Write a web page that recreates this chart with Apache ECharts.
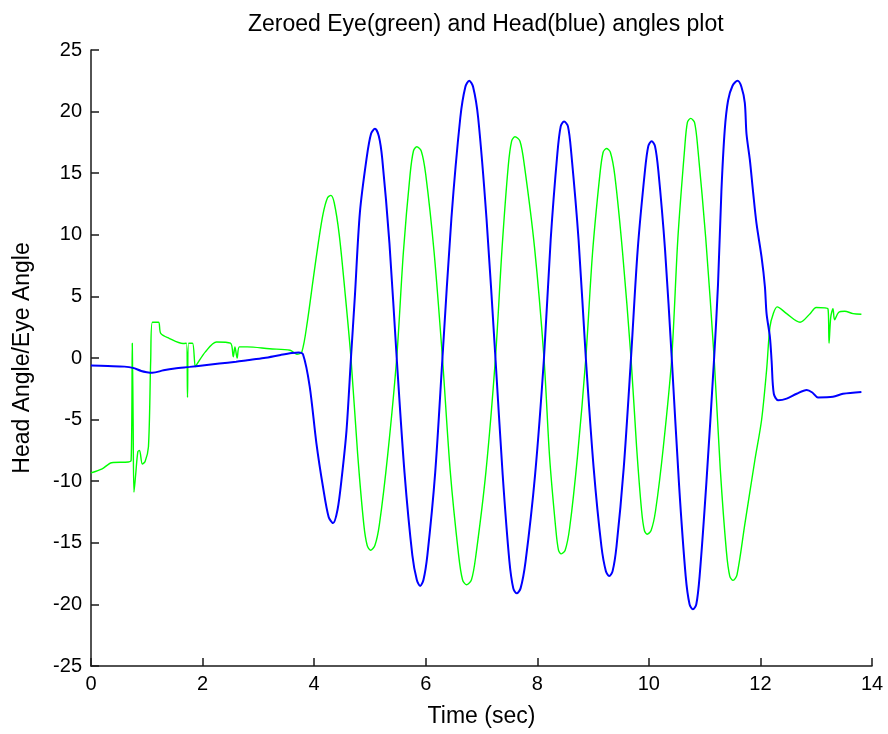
<!DOCTYPE html>
<html>
<head>
<meta charset="utf-8">
<title>Zeroed Eye and Head angles</title>
<script src="https://cdn.jsdelivr.net/npm/echarts@6/dist/echarts.min.js"></script>
<style>
  html, body { margin: 0; padding: 0; background: #fff; }
  #chart { width: 888px; height: 734px; }
</style>
</head>
<body>
<div id="chart"></div>
<script>
// tick values on both axes
const xTicks = [0, 2, 4, 6, 8, 10, 12, 14];
const yTicks = [-25, -20, -15, -10, -5, 0, 5, 10, 15, 20, 25];

// head angle (blue)
const headT = [0, 0.3, 0.6, 0.75, 0.9, 1.0, 1.1, 1.3, 1.5, 1.77, 2.0, 2.3, 2.6, 2.8, 3.1, 3.4, 3.6, 3.72,
  3.8, 3.92, 4.04, 4.16, 4.26, 4.34, 4.42, 4.49, 4.58, 4.66,
  4.73, 4.82, 4.94, 5.02, 5.09, 5.16, 5.22, 5.35, 5.48,
  5.62, 5.76, 5.84, 5.90, 5.96, 6.03, 6.17, 6.30,
  6.46, 6.62, 6.71, 6.78, 6.85, 6.94, 7.09, 7.25,
  7.38, 7.50, 7.57, 7.63, 7.70, 7.79, 7.96, 8.12,
  8.24, 8.36, 8.42, 8.48, 8.55, 8.61, 8.74, 8.87,
  9.01, 9.15, 9.23, 9.29, 9.35, 9.42, 9.55, 9.68,
  9.80, 9.93, 9.99, 10.05, 10.11, 10.17, 10.29, 10.41,
  10.54, 10.66, 10.73, 10.79, 10.85, 10.91, 11.03, 11.17,
  11.24, 11.30, 11.36, 11.42, 11.50, 11.59, 11.66, 11.72, 11.75, 11.81, 11.87, 11.93,
  12.02, 12.08, 12.11, 12.17, 12.20, 12.24, 12.32, 12.47, 12.65, 12.83, 12.93, 13.03,
  13.3, 13.48, 13.81];
const headV = [-0.6, -0.65, -0.7, -0.8, -1.05, -1.15, -1.2, -1.0, -0.85, -0.72, -0.6, -0.45, -0.3, -0.18, 0.0, 0.25, 0.4, 0.45,
  0.3, -2.3, -6.9, -10.5, -12.9, -13.4, -12.3, -9.9, -5.9, 0,
  5.0, 11.8, 16.2, 18.2, 18.6, 18.0, 16.2, 9.3, 0,
  -9.3, -16.0, -18.0, -18.5, -18.0, -16.0, -9.3, 0,
  11.3, 19.5, 22.0, 22.5, 22.0, 19.5, 11.3, 0,
  -9.5, -16.5, -18.7, -19.1, -18.7, -16.5, -9.5, 0,
  9.6, 16.6, 18.8, 19.2, 18.8, 16.6, 9.6, 0,
  -8.9, -15.3, -17.3, -17.7, -17.3, -15.3, -8.9, 0,
  8.8, 15.2, 17.2, 17.6, 17.2, 15.2, 8.8, 0,
  -10.2, -17.7, -20.0, -20.4, -20.0, -17.7, -10.2, 0,
  6.0, 13.5, 18.5, 20.9, 22.1, 22.5, 22.0, 20.7, 18.2, 16.1, 13.4, 10.9,
  8.2, 5.8, 3.6, 1.7, -0.2, -2.9, -3.43, -3.3, -2.9, -2.6, -2.8, -3.2,
  -3.15, -2.9, -2.75];

// eye angle (green)
const eyeT = [0, 0.2, 0.37, 0.67, 0.72, 0.74, 0.755, 0.77, 0.80, 0.84, 0.87, 0.92, 0.97, 1.03, 1.07, 1.10,
  1.21, 1.25, 1.40, 1.65, 1.71, 1.73, 1.75, 1.82, 1.87, 1.90, 2.05, 2.25, 2.50, 2.55, 2.58, 2.62, 2.66,
  2.80, 3.20, 3.57, 3.69, 3.78,
  3.88, 3.98, 4.08, 4.16, 4.24, 4.30, 4.36, 4.45, 4.55, 4.66,
  4.78, 4.89, 4.95, 5.01, 5.09, 5.17, 5.32, 5.48,
  5.60, 5.72, 5.78, 5.84, 5.92, 6.00, 6.15, 6.30,
  6.44, 6.59, 6.66, 6.73, 6.82, 6.90, 7.08, 7.25,
  7.37, 7.48, 7.54, 7.60, 7.69, 7.77, 7.95, 8.12,
  8.22, 8.33, 8.38, 8.43, 8.50, 8.58, 8.72, 8.87,
  8.99, 9.12, 9.18, 9.24, 9.31, 9.39, 9.53, 9.68,
  9.78, 9.87, 9.92, 9.97, 10.04, 10.12, 10.26, 10.41,
  10.52, 10.64, 10.69, 10.75, 10.82, 10.88, 11.02, 11.17,
  11.28, 11.39, 11.45, 11.51, 11.58, 11.72, 11.90, 12.02, 12.11, 12.17, 12.23, 12.30,
  12.47, 12.71, 12.89, 13.00, 13.21, 13.23, 13.26, 13.30, 13.33, 13.40, 13.51, 13.66, 13.81];
const eyeV = [-9.33, -9.0, -8.5, -8.44, -8.3, 1.2, -5.0, -10.9, -9.5, -7.6, -7.5, -8.6, -8.4, -7.2, -0.2, 2.9,
  2.9, 2.0, 1.6, 1.18, 1.2, -3.2, 1.2, 1.2, -0.7, -0.5, 0.5, 1.3, 1.2, 0.1, 0.9, 0.0, 0.9,
  0.9, 0.75, 0.63, 0.3, 0.5,
  3.0, 6.3, 9.5, 11.7, 13.0, 13.2, 12.6, 10.0, 5.5, 0,
  -7.8, -13.5, -15.2, -15.6, -15.2, -13.5, -7.8, 0,
  8.6, 14.9, 16.8, 17.15, 16.8, 14.9, 8.6, 0,
  -9.2, -16.0, -18.0, -18.4, -18.0, -16.0, -9.2, 0,
  9.0, 15.6, 17.6, 17.96, 17.6, 15.6, 9.0, 0,
  -8.0, -13.8, -15.6, -15.9, -15.6, -13.8, -8.0, 0,
  8.5, 14.8, 16.7, 17.0, 16.7, 14.8, 8.5, 0,
  -7.2, -12.4, -14.0, -14.3, -14.0, -12.4, -7.2, 0,
  9.7, 16.9, 19.1, 19.45, 19.1, 16.9, 9.7, 0,
  -9.0, -15.7, -17.7, -18.05, -17.6, -13.5, -8.3, -5.05, -1.0, 2.5, 3.6, 4.15,
  3.6, 2.9, 3.6, 4.1, 4.0, 1.2, 3.3, 4.0, 3.1, 3.7, 3.8, 3.6, 3.55];

const zip = (t, v) => t.map((x, i) => [x, v[i]]);
const font = '"Liberation Sans", Arial, sans-serif';

const axisCommon = {
  axisLine: { show: true, onZero: false, lineStyle: { color: "#1a1a1a", width: 1.5 } },
  axisTick: { show: true, inside: true, length: 8, lineStyle: { color: "#1a1a1a", width: 1.5 } },
  splitLine: { show: false },
  nameTextStyle: { color: "#000", fontSize: 23, fontFamily: font },
};

const option = {
  animation: false,
  backgroundColor: "#fff",
  // title sits centred over the plot area, not the whole canvas
  title: {
    text: "Zeroed Eye(green) and Head(blue) angles plot",
    left: 243,
    top: 8,
    textStyle: { color: "#000", fontSize: 23, fontWeight: "normal", fontFamily: font },
  },
  grid: { left: 91, right: 16, top: 50, bottom: 68 },
  xAxis: {
    type: "value",
    min: xTicks[0],
    max: xTicks[xTicks.length - 1],
    interval: 2,
    name: "Time (sec)",
    nameLocation: "middle",
    nameGap: 39,
    axisLabel: { color: "#000", fontSize: 20, fontFamily: font, margin: 8 },
    ...axisCommon,
  },
  yAxis: {
    type: "value",
    min: yTicks[0],
    max: yTicks[yTicks.length - 1],
    interval: 5,
    name: "Head Angle/Eye Angle",
    nameLocation: "middle",
    nameGap: 57,
    axisLabel: { color: "#000", fontSize: 20, fontFamily: font, margin: 9 },
    ...axisCommon,
  },
  series: [
    {
      name: "Eye",
      type: "line",
      data: zip(eyeT, eyeV),
      showSymbol: false,
      smooth: 0.3,
      lineStyle: { color: "#00ff00", width: 1.4 },
    },
    {
      name: "Head",
      type: "line",
      data: zip(headT, headV),
      showSymbol: false,
      smooth: 0.3,
      lineStyle: { color: "#0000ff", width: 2 },
    },
  ],
};

const myChart = echarts.init(document.getElementById("chart"));
myChart.setOption(option);
</script>
</body>
</html>
